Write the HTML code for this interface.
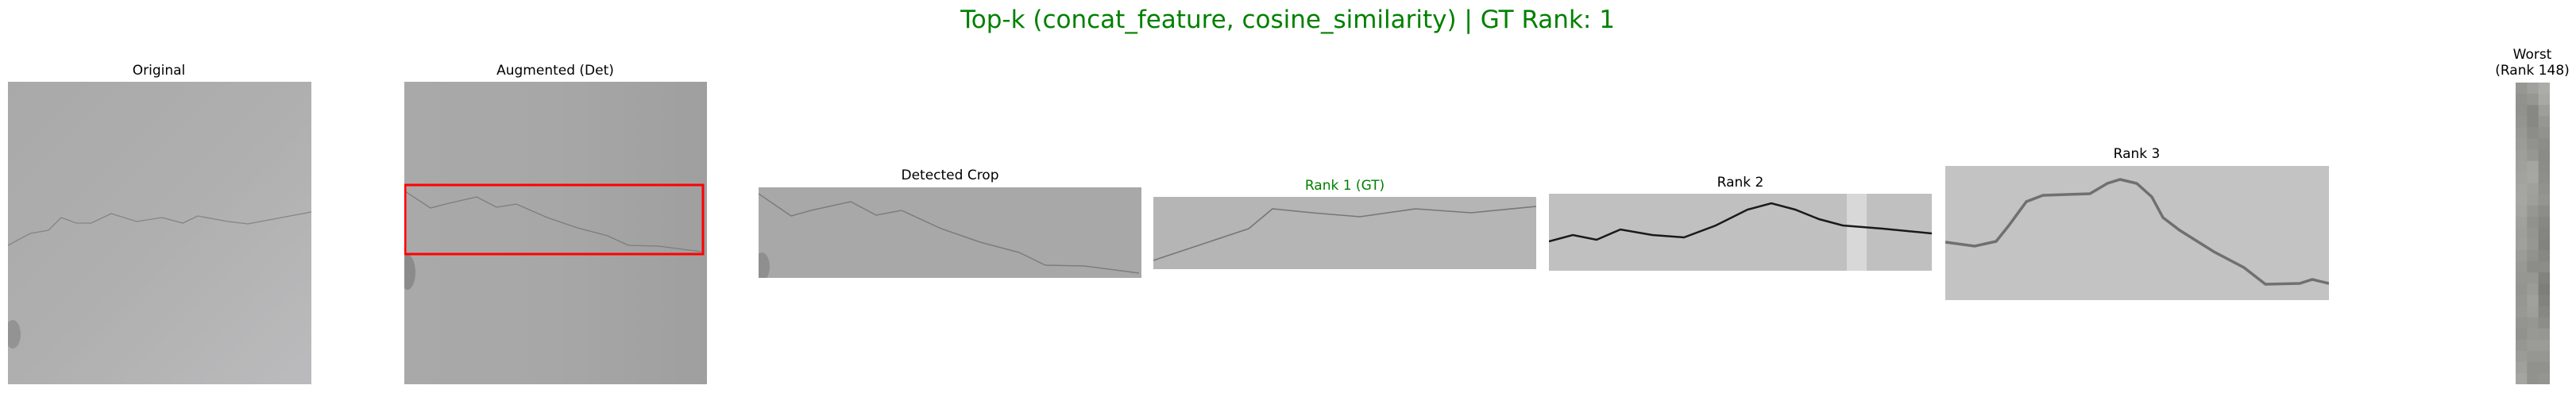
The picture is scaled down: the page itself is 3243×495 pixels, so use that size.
<!DOCTYPE html>
<html><head><meta charset="utf-8"><style>
body{margin:0;background:#fff;width:3243px;height:495px;position:relative;overflow:hidden;font-family:"DejaVu Sans","Liberation Sans",sans-serif}
.t{position:absolute;font-size:17px;color:#000;transform:translate(-50%,-50%);white-space:nowrap;line-height:20px;text-align:center}
.p{position:absolute}
</style></head><body>
<div class="t" style="left:1621px;top:25px;font-size:31px;color:#008000;line-height:36px">Top-k (concat_feature, cosine_similarity) | GT Rank: 1</div>

<div class="t" style="left:200px;top:89px">Original</div>
<svg class="p" style="left:10px;top:103px" width="382" height="381">
<defs><linearGradient id="g1" x1="0" y1="0" x2="1" y2="1"><stop offset="0" stop-color="#a9a9a9"/><stop offset="0.5" stop-color="#afafaf"/><stop offset="1" stop-color="#bbbbbd"/></linearGradient></defs>
<rect width="382" height="381" fill="url(#g1)"/>
<polyline fill="none" stroke="#858585" stroke-width="1.3" points="0,206 28,191 51,187 67,171 86,178 105,178 130,166 162,176 194,171 220,178 239,169 277,176 302,179 334,173 382,164"/>
<ellipse cx="6" cy="318" rx="10" ry="18" fill="#555" opacity="0.3"/>
</svg>

<div class="t" style="left:699px;top:89px">Augmented (Det)</div>
<svg class="p" style="left:509px;top:103px" width="381" height="381">
<defs><linearGradient id="g2" x1="0" y1="0" x2="1" y2="0"><stop offset="0" stop-color="#a9a9a9"/><stop offset="0.5" stop-color="#a7a7a7"/><stop offset="1" stop-color="#9f9f9f"/></linearGradient></defs>
<rect width="381" height="381" fill="url(#g2)"/>
<polyline fill="none" stroke="#7d7d7d" stroke-width="1.3" points="1,138 33,159 52,154 91,145 116,158 141,154 180,171 218,184 256,194 282,206 320,207 374,214"/>
<ellipse cx="4" cy="240" rx="10" ry="22" fill="#444" opacity="0.3"/>
<rect x="1" y="130" width="375" height="87" fill="none" stroke="#ff0000" stroke-width="3"/>
</svg>

<div class="t" style="left:1196px;top:221px">Detected Crop</div>
<svg class="p" style="left:955px;top:236px" width="482" height="114">
<rect width="482" height="114" fill="#a8a8a8"/>
<polyline fill="none" stroke="#7d7d7d" stroke-width="1.5" points="0,8 41,36 66,29 116,18 148,35 180,29 230,52 279,69 328,82 361,98 410,99 479,108"/>
<ellipse cx="4" cy="100" rx="10" ry="18" fill="#555" opacity="0.3"/>
</svg>

<div class="t" style="left:1693px;top:234px;color:#008000">Rank 1 (GT)</div>
<svg class="p" style="left:1452px;top:248px" width="482" height="91">
<rect width="482" height="91" fill="#b5b5b5"/>
<polyline fill="none" stroke="#777" stroke-width="1.6" points="0,80 60,60 120,40 150,15 200,20 260,25 330,15 400,20 482,12"/>
</svg>

<div class="t" style="left:2191px;top:230px">Rank 2</div>
<svg class="p" style="left:1950px;top:244px" width="482" height="97">
<rect width="482" height="97" fill="#c0c0c0"/>
<rect x="375" width="25" height="97" fill="#d8d8d8"/>
<polyline fill="none" stroke="#1a1a1a" stroke-width="2.5" points="0,60 30,52 60,58 90,45 130,52 170,55 210,40 250,20 280,12 310,20 340,32 370,40 420,44 482,50"/>
</svg>

<div class="t" style="left:2690px;top:194px">Rank 3</div>
<svg class="p" style="left:2449px;top:209px" width="483" height="169">
<rect width="483" height="169" fill="#c3c3c3"/>
<polyline fill="none" stroke="#707070" stroke-width="3.5" points="0,96 37,101 64,95 80,75 102,45 123,37 182,35 204,22 220,17 241,22 260,39 274,65 295,81 338,108 376,128 403,149 446,148 462,143 483,148"/>
</svg>

<div class="t" style="left:3188px;top:79px">Worst<br>(Rank 148)</div>
<svg class="p" id="worst" style="left:3167px;top:104px" width="43" height="380"></svg>
<script>
const worstCol0=[150,145,145,148,152,155,158,160,162,165,166,164,160,158,160,155,152,150,148,150,152,148,145,150,155,160,165];
const worstCol1=[160,150,135,135,140,145,150,165,166,160,158,150,145,148,150,145,140,150,155,160,158,150,152,155,150,145,145];
const worstCol2=[172,168,158,150,145,140,138,140,142,145,148,140,135,132,130,135,140,130,125,130,135,140,150,155,150,145,148];
const cols=[worstCol0,worstCol1,worstCol2];
const svg=document.getElementById('worst');
const rh=380/worstCol0.length;
cols.forEach((col,ci)=>col.forEach((v,ri)=>{
 const r=document.createElementNS('http://www.w3.org/2000/svg','rect');
 
 
 r.setAttribute('x',ci*43/3);r.setAttribute('y',ri*rh);
 r.setAttribute('width',43/3+0.5);r.setAttribute('height',rh+0.5);
 r.setAttribute('fill',`rgb(${v},${v},${v-4})`);
 svg.appendChild(r);
}));
</script>
</body></html>
